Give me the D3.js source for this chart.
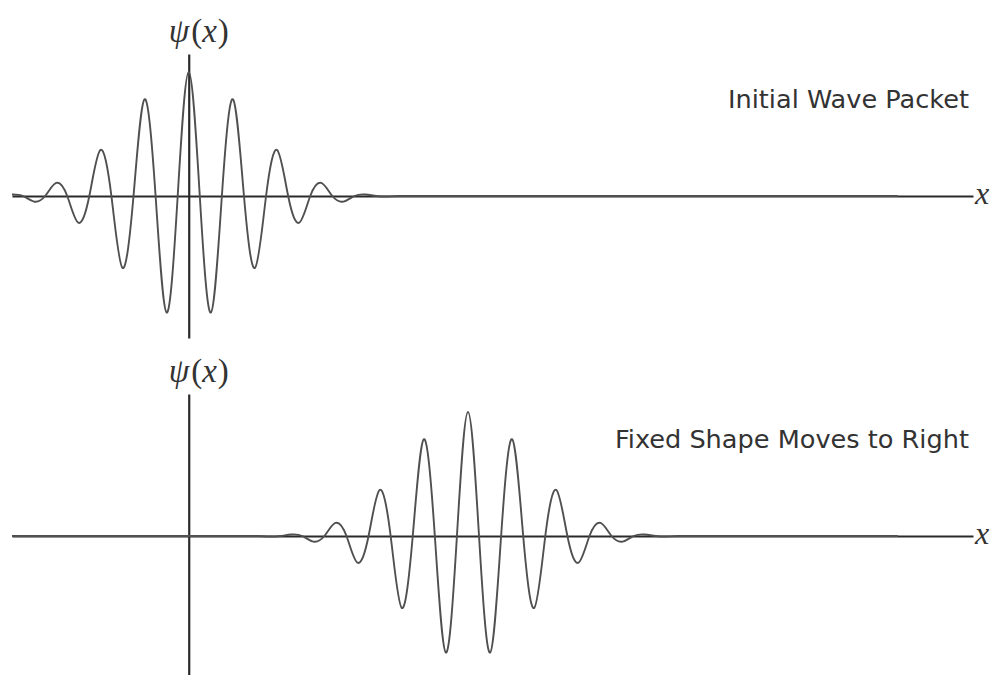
<!DOCTYPE html>
<html>
<head>
<meta charset="utf-8">
<script src="https://cdn.jsdelivr.net/npm/d3@7"></script>
<style>
  html, body { margin: 0; padding: 0; background: #fff; }
  svg { display: block; }
</style>
</head>
<body>
<script>
// ---- Data (x in wavelengths, psi normalised to the central peak) ----
const panelTitles = ["Initial Wave Packet", "Fixed Shape Moves to Right"];
const axisLabelX = "x";
const xDomain = [-4, 17.75];
const yDomain = [-1.145, 1.145];

// Panel 1: packet centred on x = 0 (extrema and axis crossings)
const initialX = [-4, -3.75, -3.5, -3.25, -3, -2.75, -2.5, -2.25, -2, -1.75, -1.5, -1.25,
  -1, -0.75, -0.5, -0.25, 0, 0.25, 0.5, 0.75, 1, 1.25, 1.5, 1.75, 2, 2.25, 2.5, 2.75,
  3, 3.25, 3.5, 3.75, 4, 4.25, 4.5, 4.75, 5.5, 7, 10, 13, 16.05];
const initialPsi = [0.012, 0, -0.045, 0, 0.105, 0, -0.215, 0, 0.37, 0, -0.58, 0,
  0.78, 0, -0.94, 0, 1.0, 0, -0.94, 0, 0.78, 0, -0.58, 0, 0.37, 0, -0.215, 0,
  0.105, 0, -0.045, 0, 0.012, 0, -0.004, 0, 0, 0, 0, 0, 0];

// Panel 2: same packet, centred near x = 6.32
const movedX = [-4, -1, 1, 1.57, 1.82, 2.07, 2.32, 2.57, 2.82, 3.07, 3.32, 3.57, 3.82, 4.07,
  4.32, 4.57, 4.82, 5.07, 5.32, 5.57, 5.82, 6.07, 6.32, 6.57, 6.82, 7.07, 7.32, 7.57,
  7.82, 8.07, 8.32, 8.57, 8.82, 9.07, 9.32, 9.57, 9.82, 10.07, 10.32, 10.57, 10.82,
  11.07, 12, 14, 16.05];
const movedPsi = [0, 0, 0, 0, -0.004, 0, 0.012, 0, -0.045, 0, 0.105, 0, -0.215, 0,
  0.37, 0, -0.58, 0, 0.78, 0, -0.94, 0, 1.0, 0, -0.94, 0, 0.78, 0, -0.58, 0,
  0.37, 0, -0.215, 0, 0.105, 0, -0.045, 0, 0.012, 0, -0.004, 0, 0, 0, 0];

// ---- Layout ----
const W = 993, H = 675;
const panels = [
  { xs: initialX, ys: initialPsi, title: panelTitles[0], yRange: [338, 54], titleY: 108, labelY: 42 },
  { xs: movedX,   ys: movedPsi,   title: panelTitles[1], yRange: [678, 394], titleY: 448, labelY: 382 }
];

const svg = d3.select("body").append("svg").attr("width", W).attr("height", H);
const x = d3.scaleLinear().domain(xDomain).range([12, 973]);

panels.forEach(p => {
  const y = d3.scaleLinear().domain(yDomain).range(p.yRange);
  const g = svg.append("g");

  const data = p.xs.map((v, i) => [v, p.ys[i]]);
  const line = d3.line().x(d => x(d[0])).y(d => y(d[1])).curve(d3.curveNatural);

  // horizontal axis
  const ax = g.append("g").attr("transform", `translate(0,${y(0)})`)
    .call(d3.axisBottom(x).tickValues([]).tickSizeOuter(0));
  ax.select(".domain").attr("stroke", "#2a2a2a").attr("stroke-width", 2.2);

  // vertical axis
  const ay = g.append("g").attr("transform", `translate(${x(0)},0)`)
    .call(d3.axisLeft(y).tickValues([]).tickSizeOuter(0));
  ay.select(".domain").attr("stroke", "#2a2a2a").attr("stroke-width", 2.2);

  // wave packet
  g.append("path").datum(data)
    .attr("d", line)
    .attr("fill", "none")
    .attr("stroke", "#505050")
    .attr("stroke-width", 1.9);

  // title
  g.append("text")
    .attr("x", 969).attr("y", p.titleY)
    .attr("text-anchor", "end")
    .attr("font-family", "DejaVu Sans, sans-serif")
    .attr("font-size", 25.6)
    .attr("fill", "#333")
    .text(p.title);

  // psi(x) label
  const lab = g.append("text")
    .attr("x", x(0) + 10).attr("y", p.labelY)
    .attr("text-anchor", "middle")
    .attr("font-family", "Liberation Serif, serif")
    .attr("font-size", 33)
    .attr("fill", "#333");
  lab.append("tspan").attr("font-style", "italic").text("\u03C8");
  lab.append("tspan").attr("dx", 2).text("(");
  lab.append("tspan").attr("font-style", "italic").text("x");
  lab.append("tspan").attr("dx", 1).text(")");

  // x label
  g.append("text")
    .attr("x", 975).attr("y", y(0) + 8)
    .attr("font-family", "Liberation Serif, serif")
    .attr("font-style", "italic")
    .attr("font-size", 32)
    .attr("fill", "#333")
    .text(axisLabelX);
});
</script>
</body>
</html>
